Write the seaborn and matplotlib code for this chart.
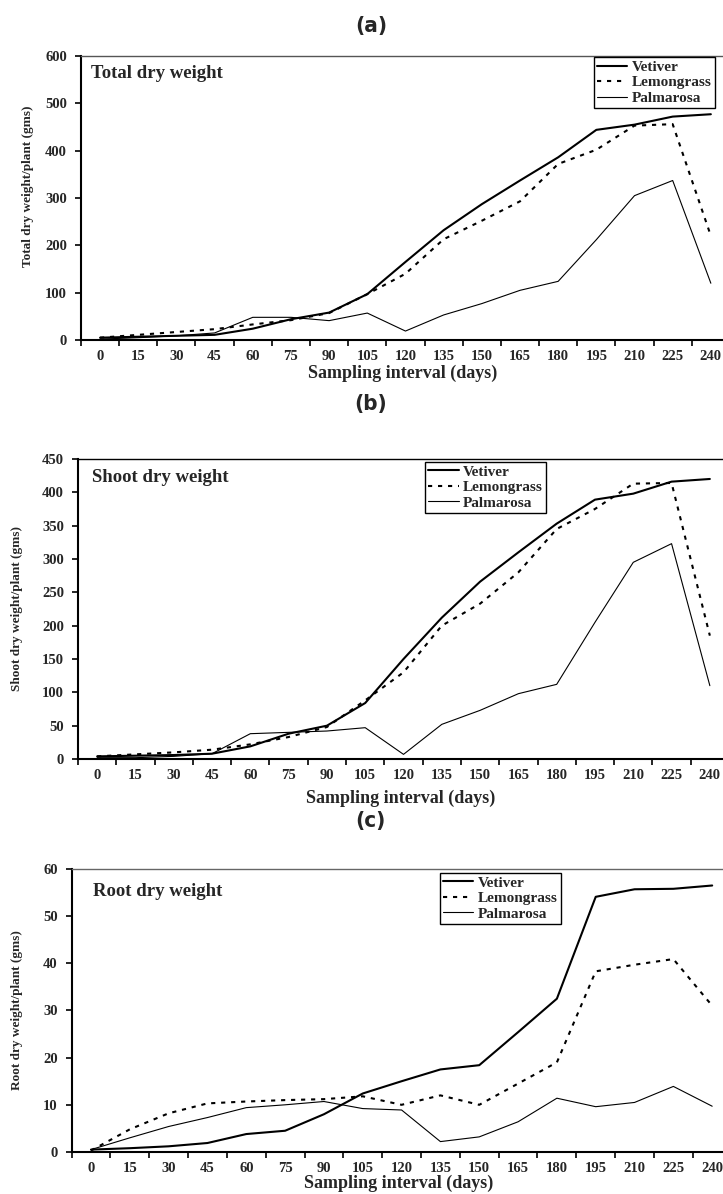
import numpy as np
import pandas as pd
import seaborn as sns
import matplotlib.pyplot as plt
from matplotlib.ticker import FixedLocator

days = [0, 15, 30, 45, 60, 75, 90, 105, 120, 135, 150, 165, 180, 195, 210, 225, 240]
species = ['Vetiver', 'Lemongrass', 'Palmarosa']

# (a) total dry weight per plant (gms)
total_vetiver = [5, 7, 9, 11, 24, 44, 58, 97, 165, 232, 287, 337, 386, 444, 455, 472, 477]
total_lemongrass = [5, 11, 17, 23, 33, 42, 57, 97, 140, 213, 252, 293, 372, 402, 453, 456, 220]
total_palmarosa = [2, 5, 9, 15, 48, 48, 41, 57, 19, 53, 77, 105, 124, 212, 305, 337, 120]

# (b) shoot dry weight per plant (gms)
shoot_vetiver = [4, 5, 6, 8, 19, 38, 50, 84, 150, 212, 266, 310, 353, 389, 398, 416, 420]
shoot_lemongrass = [4, 7, 10, 14, 22, 33, 48, 88, 130, 200, 233, 280, 345, 375, 413, 414, 185]
shoot_palmarosa = [2, 2, 4, 8, 38, 40, 42, 47, 7, 52, 73, 98, 112, 205, 295, 323, 110]

# (c) root dry weight per plant (gms)
root_vetiver = [0.5, 0.8, 1.2, 1.9, 3.8, 4.5, 8.0, 12.4, 15.0, 17.5, 18.4, 25.4, 32.5, 54.1, 55.7, 55.8, 56.5]
root_lemongrass = [0.3, 4.8, 8.2, 10.3, 10.7, 11.0, 11.2, 11.8, 10.0, 12.0, 10.0, 14.5, 19.0, 38.3, 39.7, 40.9, 31.0]
root_palmarosa = [0.5, 3.0, 5.4, 7.3, 9.4, 10.0, 10.7, 9.2, 8.9, 2.2, 3.2, 6.4, 11.4, 9.6, 10.5, 13.9, 9.7]

panels = [
    ('(a)', 'Total dry weight', 'Total dry weight/plant (gms)',
     [total_vetiver, total_lemongrass, total_palmarosa], 600, 100),
    ('(b)', 'Shoot dry weight', 'Shoot dry weight/plant (gms)',
     [shoot_vetiver, shoot_lemongrass, shoot_palmarosa], 450, 50),
    ('(c)', 'Root dry weight', 'Root dry weight/plant (gms)',
     [root_vetiver, root_lemongrass, root_palmarosa], 60, 10),
]

sns.set_style('ticks')
plt.rcParams['font.family'] = ['Liberation Serif', 'DejaVu Serif']
plt.rcParams['font.weight'] = 'bold'

fig = plt.figure(figsize=(7.23, 11.94), dpi=100)

# axes boxes (left, bottom, width, height) in figure fractions
boxes = [(0.112, 0.7152, 0.8976, 0.2379),
         (0.1079, 0.3643, 0.9004, 0.2513),
         (0.099, 0.0352, 0.9129, 0.2370)]
letter_y = [0.978, 0.6616, 0.3124]
text_pos = [(0.0154, 0.940), (0.0215, 0.937), (0.033, 0.922)]
ylab_x = [-0.082, -0.094, -0.083]
ylab_y = [0.54, 0.5, 0.5]
xlab_y = [-0.116, -0.13, -0.11]
leg_pos = [(0.790, 0.996), (0.533, 0.99), (0.558, 0.986)]
top_colors = ['#555555', 'black', '#666666']

for i, (letter, name, ylab, series, ymax, ystep) in enumerate(panels):
    ax = fig.add_axes(boxes[i])
    df = pd.DataFrame({
        'day': days * 3,
        'value': np.concatenate(series),
        'species': np.repeat(species, len(days)),
    })
    sns.lineplot(data=df, x='day', y='value', hue='species', style='species', size='species',
                 palette={'Vetiver': 'black', 'Lemongrass': 'black', 'Palmarosa': 'black'},
                 dashes={'Vetiver': '', 'Lemongrass': (2, 2.8), 'Palmarosa': ''},
                 sizes={'Vetiver': 1.5, 'Lemongrass': 1.5, 'Palmarosa': 0.8},
                 legend=False, ax=ax)

    ax.set_xlim(-7.5, 247.5)
    ax.set_ylim(0, ymax)
    ax.set_xticks(days)
    ax.set_xticklabels([str(d) for d in days])
    ax.xaxis.set_minor_locator(FixedLocator(np.arange(-7.5, 240, 15)))
    ax.tick_params(axis='x', which='major', length=0, pad=7, labelsize=10.5)
    ax.tick_params(axis='x', which='minor', length=4.5, width=1.2, direction='out', color='black')
    ax.set_yticks(np.arange(0, ymax + 1, ystep))
    ax.tick_params(axis='y', length=4, width=1.2, direction='out', pad=6, labelsize=10.5, color='black')
    for lab in ax.get_xticklabels() + ax.get_yticklabels():
        lab.set_fontweight('bold')

    for side in ['left', 'bottom']:
        ax.spines[side].set_linewidth(1.5)
        ax.spines[side].set_color('black')
    ax.spines['top'].set_linewidth(1.0)
    ax.spines['top'].set_color(top_colors[i])
    ax.spines['right'].set_visible(False)

    ax.set_xlabel('Sampling interval (days)', fontsize=13, fontweight='bold', va='center')
    ax.xaxis.set_label_coords(0.496, xlab_y[i])
    ax.set_ylabel(ylab, fontsize=9.5, fontweight='bold', va='center')
    ax.yaxis.set_label_coords(ylab_x[i], ylab_y[i])

    ax.text(text_pos[i][0], text_pos[i][1], name, transform=ax.transAxes,
            fontsize=13.5, fontweight='bold', ha='left', va='center')

    leg = ax.legend(handles=ax.lines[:3], labels=species, loc='upper left',
                    bbox_to_anchor=leg_pos[i], borderaxespad=0, fontsize=11,
                    frameon=True, fancybox=False, framealpha=1, edgecolor='black',
                    handlelength=2.0, handletextpad=0.3, labelspacing=0.12, borderpad=0.2)
    leg.get_frame().set_linewidth(1.0)
    for t in leg.get_texts():
        t.set_fontweight('bold')

    fig.text(0.513, letter_y[i], letter, fontsize=16, fontweight='bold',
             family=['Liberation Sans Narrow', 'DejaVu Sans'], fontstretch='condensed',
             ha='center', va='center')

fig.savefig('out.png', dpi=100)
